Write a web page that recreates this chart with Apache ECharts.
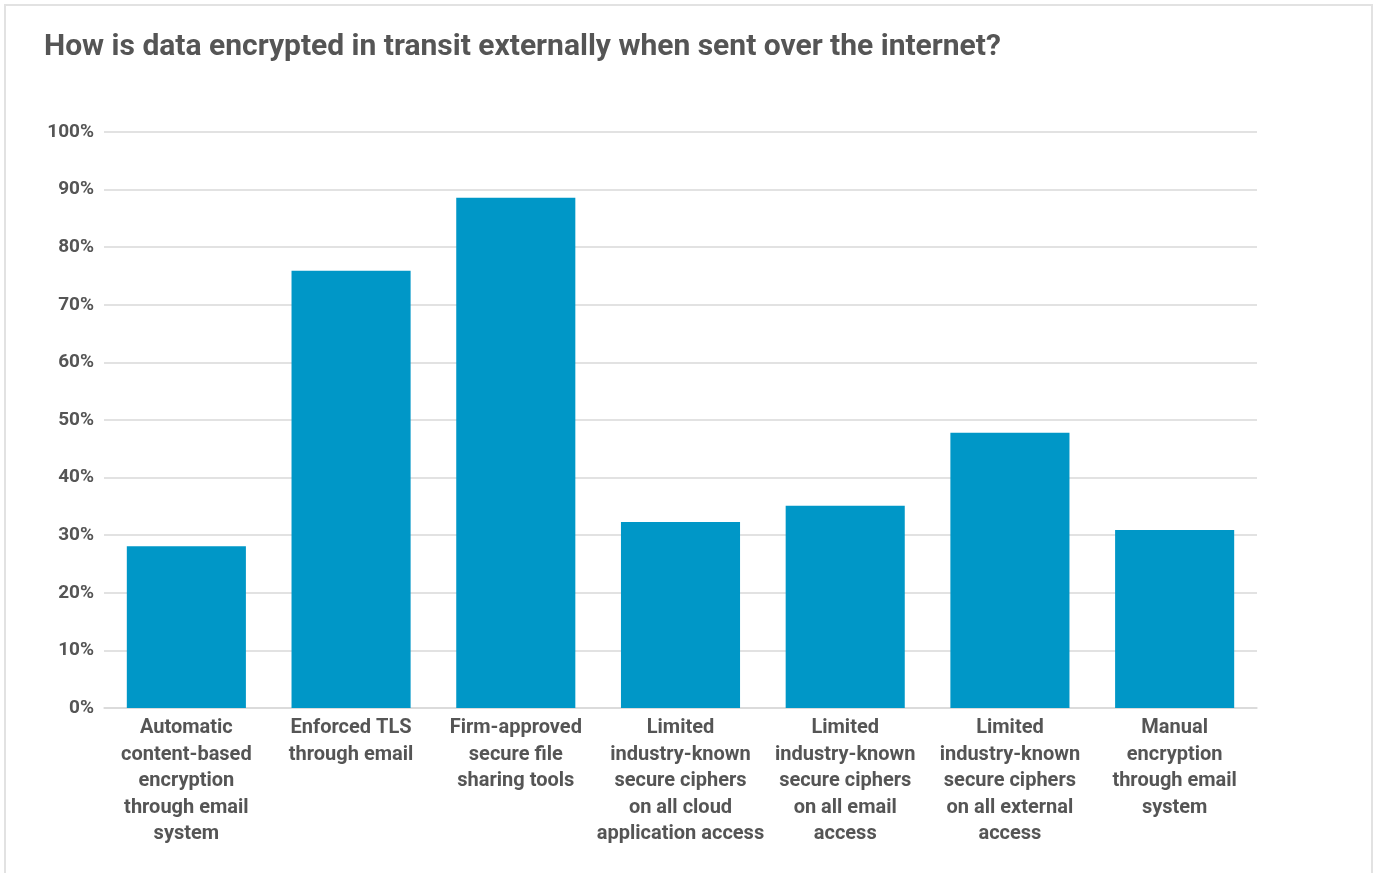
<!DOCTYPE html>
<html>
<head>
<meta charset="utf-8">
<script src="https://cdn.jsdelivr.net/npm/echarts@6/dist/echarts.min.js"></script>
<style>
  html, body { margin: 0; padding: 0; background: #fff; }
  #frame { position: absolute; left: 4px; top: 4px; width: 1369px; height: 880px; border: 2px solid #e2e2e2; box-sizing: border-box; }
  #chart { position: absolute; left: 0; top: 0; width: 1377px; height: 873px; }
</style>
</head>
<body>
<div id="frame"></div>
<div id="chart"></div>
<script>
const title = 'How is data encrypted in transit externally when sent over the internet?';
const categories = [
  'Automatic\ncontent-based\nencryption\nthrough email\nsystem',
  'Enforced TLS\nthrough email',
  'Firm-approved\nsecure file\nsharing tools',
  'Limited\nindustry-known\nsecure ciphers\non all cloud\napplication access',
  'Limited\nindustry-known\nsecure ciphers\non all email\naccess',
  'Limited\nindustry-known\nsecure ciphers\non all external\naccess',
  'Manual\nencryption\nthrough email\nsystem'
];
const values = [28.1, 75.9, 88.6, 32.3, 35.1, 47.8, 30.9];
const yTicks = { min: 0, max: 100, interval: 10 };

const FONT = '"Roboto", sans-serif';
const chart = echarts.init(document.getElementById('chart'));
chart.setOption({
  animation: false,
  title: {
    text: title,
    left: 39, top: 27,
    textStyle: { fontFamily: FONT, fontSize: 30, fontWeight: 'bold', color: '#555555' }
  },
  grid: { left: 104, right: 120, top: 132, bottom: 165 },
  xAxis: {
    type: 'category',
    data: categories,
    axisLine: { lineStyle: { color: '#d9d9d9', width: 1.5 } },
    axisTick: { show: false },
    axisLabel: {
      interval: 0, margin: 7,
      fontFamily: FONT, fontSize: 20, fontWeight: 'bold', color: '#555555', lineHeight: 26.5
    }
  },
  yAxis: {
    type: 'value',
    min: yTicks.min, max: yTicks.max, interval: yTicks.interval,
    axisLine: { show: false },
    axisTick: { show: false },
    splitLine: { lineStyle: { color: '#d9d9d9', width: 1.5 } },
    axisLabel: {
      formatter: '{value}%', margin: 10,
      fontFamily: FONT, fontSize: 19, fontWeight: 'bold', color: '#555555'
    }
  },
  series: [{
    type: 'bar',
    data: values,
    barCategoryGap: '27.7%',
    itemStyle: { color: '#0097C7' }
  }]
});
</script>
</body>
</html>
